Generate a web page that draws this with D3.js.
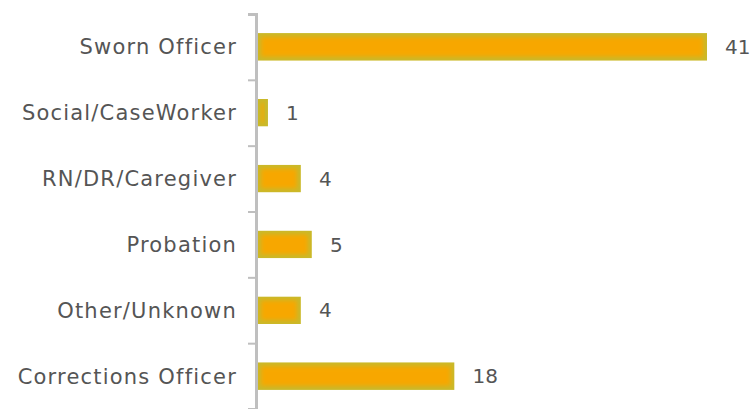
<!DOCTYPE html>
<html>
<head>
<meta charset="utf-8">
<script src="https://cdn.jsdelivr.net/npm/d3@7"></script>
<style>
  body { margin: 0; background: #fff; }
  svg text { font-family: "DejaVu Sans", sans-serif; fill: #555555; }
</style>
</head>
<body>
<svg id="chart" width="752" height="409"></svg>
<script>
const categories = ['Sworn Officer', 'Social/CaseWorker', 'RN/DR/Caregiver', 'Probation', 'Other/Unknown', 'Corrections Officer'];
const values = [41, 1, 4, 5, 4, 18];

const width = 752;
const height = 409;
const margin = { top: 14, right: 45, bottom: 0, left: 257 };

const svg = d3.select('#chart');

const x = d3.scaleLinear().domain([0, 41]).range([margin.left, 707]);
const y = d3.scaleBand().domain(categories).range([margin.top, height]).paddingInner(0.58).paddingOuter(0.29);

// soft edge effect on bars
const defs = svg.append('defs');
defs.append('filter')
    .attr('id', 'soft')
    .attr('x', '-20%').attr('y', '-50%').attr('width', '140%').attr('height', '200%')
    .append('feGaussianBlur')
    .attr('stdDeviation', 2.2);

const bars = svg.append('g')
    .selectAll('g')
    .data(categories)
    .enter()
    .append('g');

bars.each(function (d, i) {
    const g = d3.select(this);
    const x0 = x(0), w = x(values[i]) - x(0);
    const id = 'clip' + i;
    defs.append('clipPath').attr('id', id)
        .append('rect')
        .attr('x', x0).attr('y', y(d))
        .attr('width', w).attr('height', y.bandwidth());
    g.attr('clip-path', 'url(#' + id + ')');
    g.append('rect')
        .attr('x', x0).attr('y', y(d))
        .attr('width', w).attr('height', y.bandwidth())
        .attr('fill', '#c9b92a');
    g.append('rect')
        .attr('x', x0 + 4).attr('y', y(d) + 4)
        .attr('width', Math.max(0, w - 8)).attr('height', y.bandwidth() - 8)
        .attr('fill', '#f7a700')
        .attr('filter', 'url(#soft)');
});

// value labels
svg.append('g')
    .selectAll('text')
    .data(categories)
    .enter()
    .append('text')
    .attr('x', function (d, i) { return x(values[i]) + 18; })
    .attr('y', function (d) { return y(d) + y.bandwidth() / 2; })
    .attr('dy', '0.36em')
    .style('font-size', '20px')
    .text(function (d, i) { return values[i]; });

// axis
const axis = d3.axisLeft(d3.scaleLinear().domain([0, categories.length]).range([margin.top, height]))
    .ticks(categories.length)
    .tickSize(8)
    .tickFormat('');

const ax = svg.append('g')
    .attr('transform', 'translate(' + (margin.left - 1) + ',0)')
    .call(axis);
ax.select('.domain').attr('stroke', '#bfbfbf').attr('stroke-width', 3);
ax.selectAll('.tick line').attr('stroke', '#bfbfbf').attr('stroke-width', 2);

// category labels
svg.append('g')
    .selectAll('text')
    .data(categories)
    .enter()
    .append('text')
    .attr('x', 237)
    .attr('y', function (d) { return y(d) + y.bandwidth() / 2; })
    .attr('dy', '0.36em')
    .attr('text-anchor', 'end')
    .style('font-size', '21px')
    .style('letter-spacing', '1.2px')
    .text(function (d) { return d; });
</script>
</body>
</html>
